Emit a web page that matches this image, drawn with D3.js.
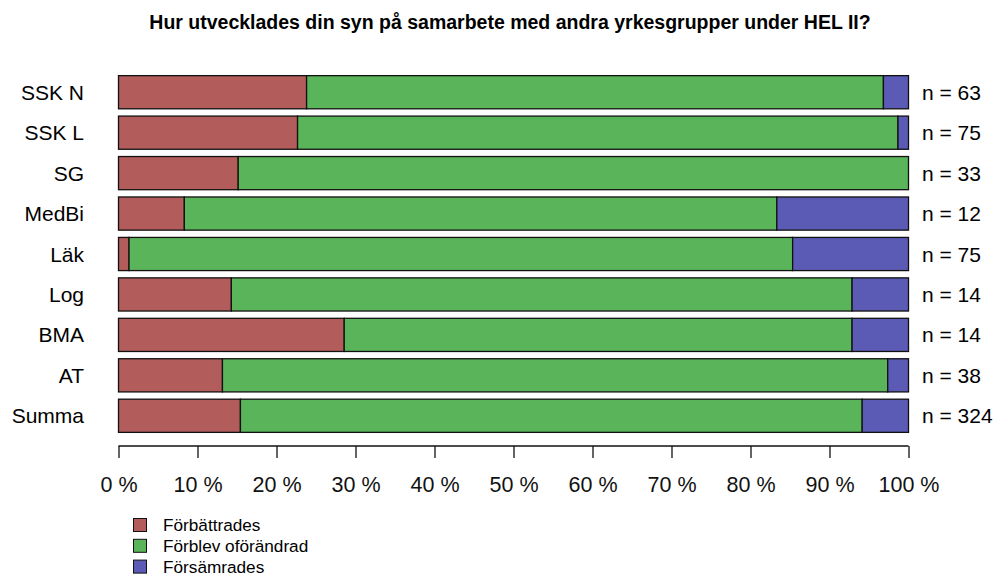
<!DOCTYPE html>
<html>
<head>
<meta charset="utf-8">
<script src="https://cdn.jsdelivr.net/npm/d3@7"></script>
<style>
  body { margin: 0; background: #fff; }
  text { font-family: "Liberation Sans", Arial, sans-serif; }
</style>
</head>
<body>
<svg id="chart" width="995" height="576"></svg>
<script>
// antal svar per grupp
var groups = ["SSK N", "SSK L", "SG", "MedBi", "Läk", "Log", "BMA", "AT", "Summa"];
var forbattrades = [15, 17, 5, 1, 1, 2, 4, 5, 50];
var oforandrad   = [46, 57, 28, 9, 63, 11, 9, 32, 255];
var forsamrades  = [2, 1, 0, 2, 11, 1, 1, 1, 19];
var seriesNames = ["Förbättrades", "Förblev oförändrad", "Försämrades"];
var colors = ["#b35c5c", "#5ab45a", "#5b5bb5"];
var ticks = [0, 10, 20, 30, 40, 50, 60, 70, 80, 90, 100];

var svg = d3.select("#chart");

var x = d3.scaleLinear().domain([0, 100]).range([118.5, 908.5]);
var y = d3.scaleBand().domain(groups).range([72, 436]).paddingInner(0.18).paddingOuter(0.09);

var rows = groups.map(function(g, i) {
  var n = forbattrades[i] + oforandrad[i] + forsamrades[i];
  return { group: g, n: n, vals: [forbattrades[i], oforandrad[i], forsamrades[i]] };
});

svg.append("text")
  .attr("x", 510).attr("y", 29)
  .attr("text-anchor", "middle")
  .attr("font-size", 19.5).attr("font-weight", "bold")
  .text("Hur utvecklades din syn på samarbete med andra yrkesgrupper under HEL II?");

rows.forEach(function(r) {
  var cum = 0;
  r.vals.forEach(function(v, k) {
    var p0 = cum / r.n * 100;
    cum += v;
    var p1 = cum / r.n * 100;
    if (v == 0) return;
    svg.append("rect")
      .attr("x", x(p0)).attr("y", y(r.group))
      .attr("width", x(p1) - x(p0)).attr("height", y.bandwidth())
      .attr("fill", colors[k])
      .attr("stroke", "#111").attr("stroke-width", 1.3);
  });
  svg.append("text")
    .attr("x", 84).attr("y", y(r.group) + y.bandwidth() / 2)
    .attr("dy", "0.36em").attr("text-anchor", "end")
    .attr("font-size", 21).text(r.group);
  svg.append("text")
    .attr("x", 922).attr("y", y(r.group) + y.bandwidth() / 2)
    .attr("dy", "0.36em")
    .attr("font-size", 21).text("n = " + r.n);
});

var axis = d3.axisBottom(x).tickValues(ticks).tickSize(12).tickPadding(19)
  .tickFormat(function(d) { return d + " %"; });
var ag = svg.append("g").attr("transform", "translate(0,446)").call(axis);
ag.select(".domain").attr("d", "M" + x(0) + ",0H" + x(100)).attr("stroke", "#111").attr("stroke-width", 1.3);
ag.selectAll(".tick line").attr("stroke", "#111").attr("stroke-width", 1.3);
ag.selectAll(".tick text").attr("font-size", 21.5).attr("fill", "#111")
  .attr("font-family", "Liberation Sans, Arial, sans-serif");

var leg = svg.append("g");
seriesNames.forEach(function(s, k) {
  var cy = 525 + k * 20.8;
  leg.append("rect")
    .attr("x", 133.5).attr("y", cy - 6.5).attr("width", 13).attr("height", 13)
    .attr("fill", colors[k]).attr("stroke", "#111").attr("stroke-width", 1);
  leg.append("text")
    .attr("x", 163).attr("y", cy).attr("dy", "0.35em")
    .attr("font-size", 17.2).text(s);
});
</script>
</body>
</html>
